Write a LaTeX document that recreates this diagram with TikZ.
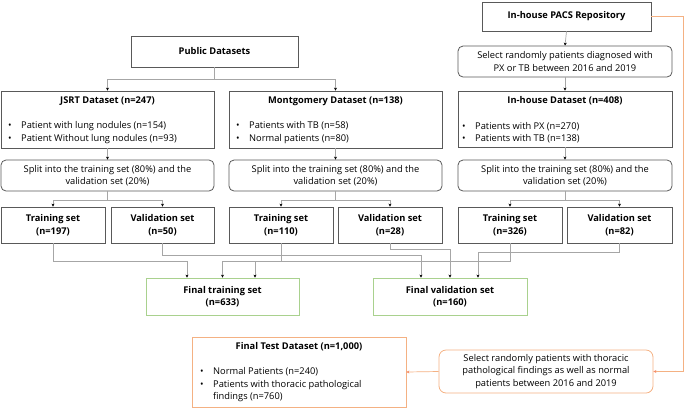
\documentclass[tikz,border=0pt]{standalone}
\usepackage{fontspec}
\setmainfont{Open Sans}
\usetikzlibrary{arrows.meta}

\definecolor{boxgray}{HTML}{595959}
\definecolor{linkgray}{HTML}{A6A6A6}
\definecolor{boxgreen}{HTML}{A9D18E}
\definecolor{boxorange}{HTML}{F4B183}

\tikzset{
  box/.style={draw=boxgray, line width=0.8pt, inner sep=0pt, align=center},
  rbox/.style={box, rounded corners=5pt},
  gbox/.style={box, draw=boxgreen},
  obox/.style={box, draw=boxorange},
  link/.style={draw=linkgray, line width=0.7pt, -{Stealth[black,length=3pt,width=3pt]}},
  olink/.style={draw=boxorange, line width=0.7pt, -{Stealth[boxorange!80!red,length=3pt,width=3pt]}},
  lbl/.style={inner sep=0pt, align=left, anchor=west},
}
\newcommand{\bul}{\makebox[13pt][l]{\textbullet}}

\begin{document}
\begin{tikzpicture}[x=1pt, y=-1pt, font=\fontsize{9.3}{12.5}\selectfont]
\useasboundingbox (0,0) rectangle (685,408);

% Sources
\node[box, minimum width=167pt, minimum height=31pt] (pub) at (214.5,51.5) {\textbf{Public Datasets}};
\node[box, minimum width=169pt, minimum height=29pt] (pacs) at (566.5,16.5) {\textbf{In-house PACS Repository}};
\node[rbox, minimum width=214pt, minimum height=31pt] (selpx) at (565,61.5) {Select randomly patients diagnosed with\\PX or TB between 2016 and 2019};

% Datasets
\node[box, minimum width=213pt, minimum height=57pt] (jsrt) at (107.5,119.5) {};
\node[inner sep=0pt] (jsrtT) at (107.5,101) {\textbf{JSRT Dataset (n=247)}};
\node[lbl] (jsrtB) at (8,132.5) {\bul Patient with lung nodules (n=154)\\\bul Patient Without lung nodules (n=93)};

\node[box, minimum width=213pt, minimum height=57pt] (mont) at (335.5,119.5) {};
\node[inner sep=0pt] (montT) at (335.5,101) {\textbf{Montgomery Dataset (n=138)}};
\node[lbl] (montB) at (236,132.5) {\bul Patients with TB (n=58)\\\bul Normal patients (n=80)};

\node[box, minimum width=214pt, minimum height=56pt] (ihd) at (565,119) {};
\node[inner sep=0pt] (ihdT) at (565,101) {\textbf{In-house Dataset (n=408)}};
\node[lbl] (ihdB) at (462,132.5) {\bul Patients with PX (n=270)\\\bul Patients with TB (n=138)};

% Splits
\node[rbox, minimum width=213pt, minimum height=31pt] (jsplit) at (107.5,175.5) {Split into the training set (80\%) and the\\validation set (20\%)};
\node[rbox, minimum width=213pt, minimum height=31pt] (msplit) at (335.5,175.5) {Split into the training set (80\%) and the\\validation set (20\%)};
\node[rbox, minimum width=214pt, minimum height=31pt] (isplit) at (565,175.5) {Split into the training set (80\%) and the\\validation set (20\%)};

% Training and validation sets
\node[box, minimum width=104pt, minimum height=36pt] (jtrain) at (53,225) {\textbf{Training set}\\\textbf{(n=197)}};
\node[box, minimum width=103pt, minimum height=36pt] (jval) at (162.5,225) {\textbf{Validation set}\\\textbf{(n=50)}};
\node[box, minimum width=104pt, minimum height=36pt] (mtrain) at (281,225) {\textbf{Training set}\\\textbf{(n=110)}};
\node[box, minimum width=104pt, minimum height=36pt] (mval) at (390,225) {\textbf{Validation set}\\\textbf{(n=28)}};
\node[box, minimum width=104pt, minimum height=36pt] (itrain) at (510,225) {\textbf{Training set}\\\textbf{(n=326)}};
\node[box, minimum width=105pt, minimum height=36pt] (ival) at (619.5,225) {\textbf{Validation set}\\\textbf{(n=82)}};

% Final sets
\node[gbox, minimum width=153pt, minimum height=37pt] (ftrain) at (222.5,296.5) {\textbf{Final training set}\\\textbf{(n=633)}};
\node[gbox, minimum width=154pt, minimum height=37pt] (fval) at (450,296.5) {\textbf{Final validation set}\\\textbf{(n=160)}};

% Test set
\node[obox, minimum width=214pt, minimum height=70pt] (ftest) at (299,372) {};
\node[inner sep=0pt] (ftestT) at (299,347) {\textbf{Final Test Dataset (n=1,000)}};
\node[lbl] (ftestB) at (200,385) {\bul Normal Patients (n=240)\\\bul Patients with thoracic pathological\\\hspace*{13pt}findings (n=760)};
\node[obox, rounded corners=7pt, minimum width=214pt, minimum height=43pt] (seltest) at (546,371.5) {Select randomly patients with thoracic\\pathological findings as well as normal\\patients between 2016 and 2019};

% Arrows
\draw[link] (pub.south) -- ++(0,12) -| (jsrt.north);
\draw[link] (pub.south) -- ++(0,12) -| (mont.north);
\draw[link] (pacs.south) -- (selpx.north);
\draw[link] (selpx.south) -- (ihd.north);
\draw[link] (jsrt.south) -- (jsplit.north);
\draw[link] (mont.south) -- (msplit.north);
\draw[link] (ihd.south) -- (isplit.north);

\draw[link] (jsplit.south) -- ++(0,9) -| (jtrain.north);
\draw[link] (jsplit.south) -- ++(0,9) -| (jval.north);
\draw[link] (msplit.south) -- ++(0,9) -| (mtrain.north);
\draw[link] (msplit.south) -- ++(0,9) -| (mval.north);
\draw[link] (isplit.south) -- ++(0,9) -| (itrain.north);
\draw[link] (isplit.south) -- ++(0,9) -| (ival.north);

\draw[link] (jtrain.south) -- ++(0,18) -| ([xshift=-35.5pt]ftrain.north);
\draw[link] (mtrain.south) -- ++(0,18) -| (ftrain.north);
\draw[link] (itrain.south) -- ++(0,18) -| ([xshift=32.5pt]ftrain.north);
\draw[link] (jval.south) -- ++(0,12) -| ([xshift=-29pt]fval.north);
\draw[link] (mval.south) -- ++(0,6) -| (fval.north);
\draw[link] (ival.south) -- ++(0,9) -| ([xshift=28pt]fval.north);

\draw[olink] (pacs.east) -- ++(32,0) |- (seltest.east);
\draw[olink] (seltest.west) -- (ftest.east);

\end{tikzpicture}
\end{document}
